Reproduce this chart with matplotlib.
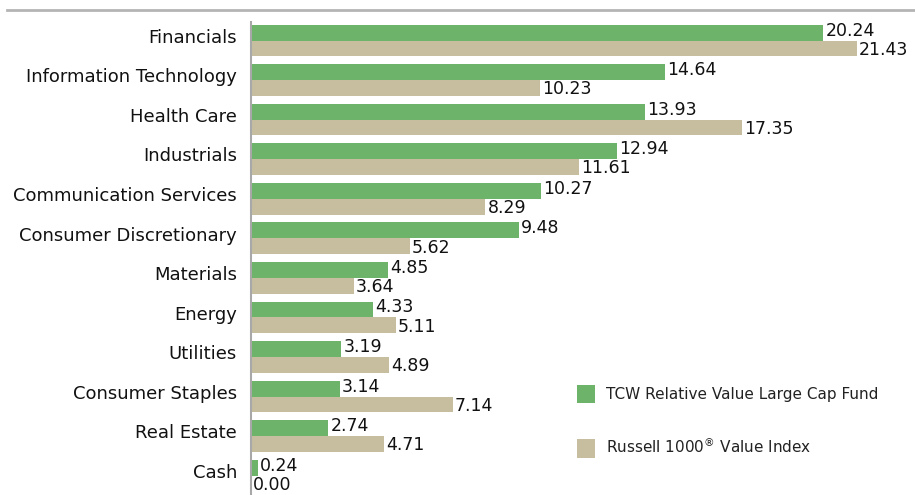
import matplotlib
matplotlib.use("Agg")
from matplotlib import pyplot as plt
from matplotlib.lines import Line2D
import numpy as np

setores = ["Financials", "Information Technology", "Health Care", "Industrials",
           "Communication Services", "Consumer Discretionary", "Materials", "Energy",
           "Utilities", "Consumer Staples", "Real Estate", "Cash"]
fundo = [20.24, 14.64, 13.93, 12.94, 10.27, 9.48, 4.85, 4.33, 3.19, 3.14, 2.74, 0.24]
indice = [21.43, 10.23, 17.35, 11.61, 8.29, 5.62, 3.64, 5.11, 4.89, 7.14, 4.71, 0.00]

verde = "#6DB36A"
bege = "#C6BE9F"

plt.rcParams['font.family'] = ['DejaVu Sans']

fig = plt.figure(figsize=(9.15, 4.95), dpi=100)
ax = fig.add_axes([251 / 915, 0, 1 - 251 / 915, 1 - 22 / 495])

y = np.arange(len(setores))
h = 0.4
ax.barh(y - h / 2, fundo, height=h, color=verde, label='TCW Relative Value Large Cap Fund')
ax.barh(y + h / 2, indice, height=h, color=bege, label=r'Russell 1000$^{\circledR}$ Value Index')

# rotulos de valor
for i in range(len(setores)):
    ax.annotate(f"{fundo[i]:.2f}", (fundo[i], y[i] - h / 2), xytext=(1.5, 1.5),
                textcoords='offset points', va='center', ha='left', fontsize=12.5, color='#111111')
    ax.annotate(f"{indice[i]:.2f}", (indice[i], y[i] + h / 2), xytext=(1.5, -1),
                textcoords='offset points', va='center', ha='left', fontsize=12.5, color='#111111')

ax.set_yticks(y - 0.12)
ax.set_yticklabels(setores, fontsize=13, color='#111111')
ax.tick_params(axis='y', length=0, pad=10)
ax.set_xticks([])
ax.set_xlim(0, 664 / 28.28)
ax.set_ylim(11.49, -0.468)
for s in ['top', 'right', 'bottom']:
    ax.spines[s].set_visible(False)
ax.spines['left'].set_color('#a8a8a8')
ax.spines['left'].set_linewidth(1.5)

leg = ax.legend(loc='upper left', bbox_to_anchor=((577 - 251) / 664 - 0.021, 1 - (371 - 22) / 473),
                frameon=False, fontsize=11, handlelength=1.2, handleheight=1.5,
                labelspacing=2.2, handletextpad=0.7)
for t in leg.get_texts():
    t.set_color('#222222')

# linha cinza no topo
fig.add_artist(Line2D([7 / 915, 1], [1 - 10 / 495, 1 - 10 / 495], color='#b4b4b4', linewidth=2))

fig.savefig("out.png", dpi=100)
